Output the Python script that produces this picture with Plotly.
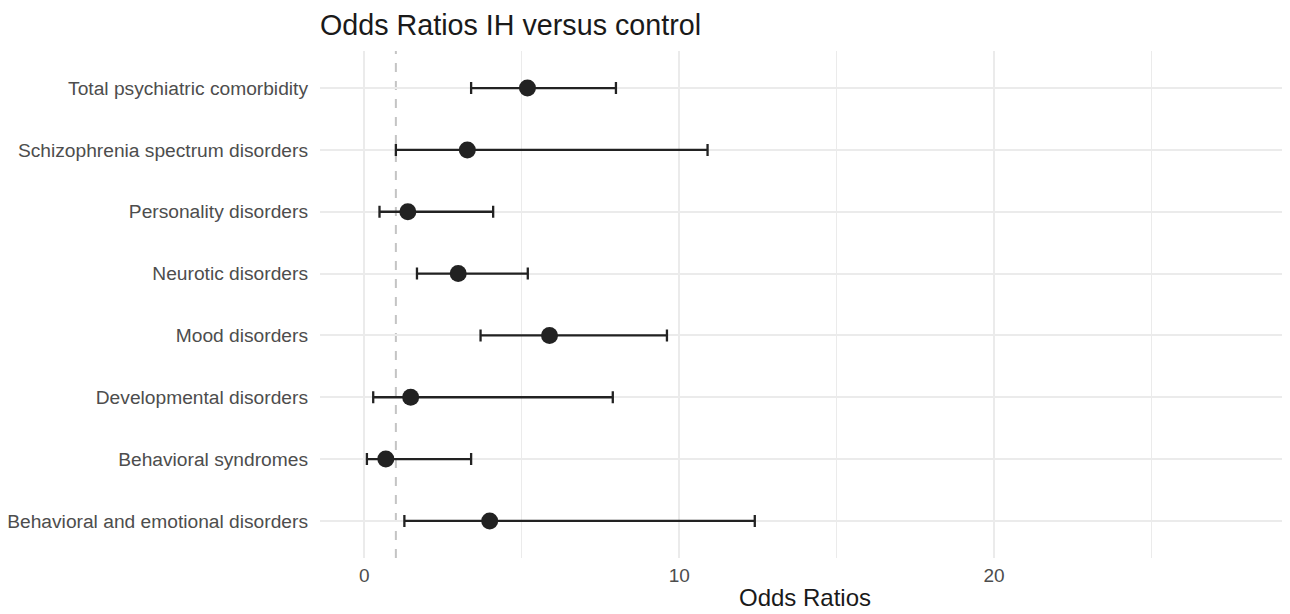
import plotly.graph_objects as go

categories = [
    "Behavioral and emotional disorders",
    "Behavioral syndromes",
    "Developmental disorders",
    "Mood disorders",
    "Neurotic disorders",
    "Personality disorders",
    "Schizophrenia spectrum disorders",
    "Total psychiatric comorbidity",
]
odds_ratio = [3.98, 0.68, 1.47, 5.88, 2.98, 1.38, 3.27, 5.18]
ci_lower = [1.27, 0.08, 0.28, 3.69, 1.67, 0.48, 1.00, 3.39]
ci_upper = [12.4, 3.39, 7.89, 9.61, 5.19, 4.09, 10.9, 7.99]
x_ticks = [0, 10, 20]
ref_line = 1

err_plus = [u - o for u, o in zip(ci_upper, odds_ratio)]
err_minus = [o - l for o, l in zip(odds_ratio, ci_lower)]

fig = go.Figure()
fig.add_trace(go.Scatter(
    x=odds_ratio, y=categories, mode="markers",
    marker=dict(size=17, color="#222222"),
    error_x=dict(type="data", symmetric=False, array=err_plus, arrayminus=err_minus,
                 color="#222222", thickness=2.3, width=6),
    showlegend=False, hoverinfo="x+y",
))
fig.add_shape(type="line", x0=ref_line, x1=ref_line, y0=0, y1=1, yref="paper",
              line=dict(color="#c4c4c4", width=2, dash="dash"), layer="below")

W, H = 1282, 606
fig.update_layout(
    width=W, height=H,
    margin=dict(l=312, r=0, t=43, b=56),
    paper_bgcolor="white", plot_bgcolor="white",
    font=dict(family="Liberation Sans, Arial, sans-serif", color="#222222"),
    title=dict(text="Odds Ratios IH versus control", x=312 / W, xanchor="left",
               y=1 - 17 / H, yanchor="middle", font=dict(size=28.7, color="#1a1a1a")),
    xaxis=dict(range=[-1.41, 29.4], tickvals=x_ticks, ticktext=[str(v) for v in x_ticks],
               showgrid=True, gridcolor="#ebebeb", gridwidth=1.5,
               minor=dict(tickvals=[5, 15, 25], showgrid=True, gridcolor="#ebebeb", gridwidth=1.2),
               zeroline=False, showline=False, ticks="", ticklabelstandoff=4,
               tickfont=dict(size=19, color="#4d4d4d"),
               title=dict(text="Odds Ratios", font=dict(size=24, color="#1a1a1a"), standoff=4)),
    yaxis=dict(categoryorder="array", categoryarray=categories,
               range=[-0.6, len(categories) - 0.4],
               showgrid=True, gridcolor="#ebebeb", gridwidth=2,
               zeroline=False, showline=False, ticks="", ticklabelstandoff=11,
               tickfont=dict(size=19.2, color="#4d4d4d")),
)

fig.write_html("out.html")
